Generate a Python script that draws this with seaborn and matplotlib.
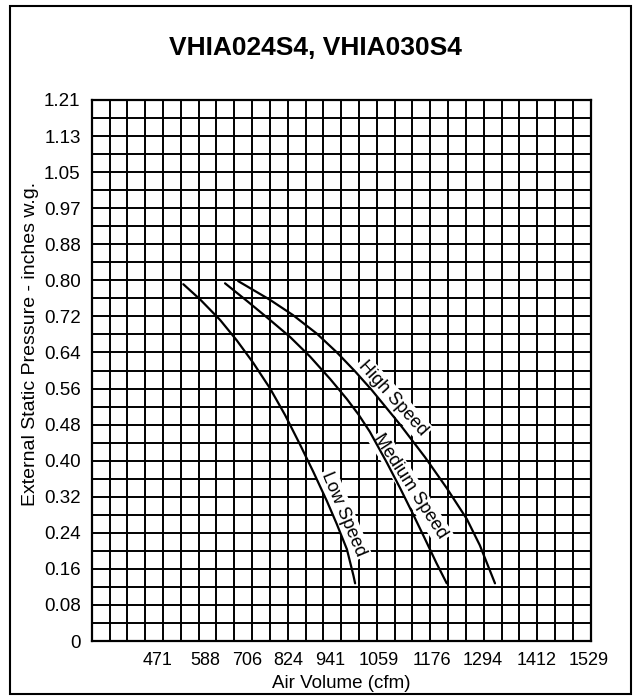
import numpy as np
import pandas as pd
import matplotlib
matplotlib.use("Agg")
import matplotlib.pyplot as plt
from matplotlib.patches import Rectangle
import seaborn as sns

# ---------------- data ----------------
low_cfm = [554, 595, 644, 685, 725, 766, 803, 839, 872, 905, 929, 954, 970, 974]
low_esp = [0.798, 0.764, 0.718, 0.672, 0.622, 0.565, 0.505, 0.440, 0.378, 0.313, 0.262, 0.205, 0.146, 0.129]

med_cfm = [656, 709, 766, 815, 864, 913, 954, 982, 1010, 1051, 1084, 1116, 1145, 1173, 1198]
med_esp = [0.800, 0.761, 0.718, 0.680, 0.636, 0.586, 0.541, 0.507, 0.468, 0.400, 0.342, 0.283, 0.228, 0.174, 0.129]

high_cfm = [688, 766, 822, 881, 930, 974, 1015, 1084, 1145, 1198, 1247, 1279, 1316]
high_esp = [0.805, 0.763, 0.729, 0.687, 0.645, 0.603, 0.561, 0.484, 0.411, 0.342, 0.273, 0.214, 0.129]

speed_names = ["Low Speed", "Medium Speed", "High Speed"]

x_tick_labels = ["471", "588", "706", "824", "941", "1059", "1176", "1294", "1412", "1529"]
y_tick_labels = ["0", "0.08", "0.16", "0.24", "0.32", "0.40", "0.48", "0.56", "0.64",
                 "0.72", "0.80", "0.88", "0.97", "1.05", "1.13", "1.21"]

title = "VHIA024S4, VHIA030S4"
x_title = "Air Volume (cfm)"
y_title = "External Static Pressure - inches w.g."

# ---------------- layout ----------------
X_MIN, X_MAX = 330, 1550
Y_MIN, Y_MAX = 0.0, 1.21
N_COLS, N_ROWS = 28, 30
# where the reference prints its x labels (a text row, not aligned to the grid)
x_tick_pos = [491, 607, 709, 811, 913, 1031, 1161, 1287, 1418, 1546]
# curve-label placement (data coords) and screen rotation
label_pos = {"Low Speed": (946, 0.283, -67),
             "Medium Speed": (1109, 0.345, -57),
             "High Speed": (1066, 0.543, -48)}

df = pd.concat([
    pd.DataFrame({"cfm": low_cfm, "esp": low_esp, "speed": speed_names[0]}),
    pd.DataFrame({"cfm": med_cfm, "esp": med_esp, "speed": speed_names[1]}),
    pd.DataFrame({"cfm": high_cfm, "esp": high_esp, "speed": speed_names[2]}),
], ignore_index=True)

sns.set_style("white")
plt.rcParams["font.family"] = ["Liberation Sans", "DejaVu Sans"]

W, H = 637, 700
fig = plt.figure(figsize=(W / 100, H / 100), dpi=100)
ax = fig.add_axes([91.7 / W, 59 / H, 499 / W, 541 / H])

sns.lineplot(data=df, x="cfm", y="esp", hue="speed", sort=False,
             palette={s: "black" for s in speed_names}, linewidth=1.6,
             legend=False, ax=ax, zorder=4)

ax.set_xlim(X_MIN, X_MAX)
ax.set_ylim(Y_MIN, Y_MAX)

# grid
ax.set_xticks(np.linspace(X_MIN, X_MAX, N_COLS + 1), minor=True)
ax.set_yticks(np.linspace(Y_MIN, Y_MAX, N_ROWS + 1), minor=True)
ax.xaxis.remove_overlapping_locs = False
ax.yaxis.remove_overlapping_locs = False
ax.set_xticks(x_tick_pos, labels=x_tick_labels)
ax.set_yticks(np.linspace(Y_MIN, Y_MAX, len(y_tick_labels)), labels=y_tick_labels)
ax.set_axisbelow(True)
ax.xaxis.grid(True, which="minor", color="black", linewidth=1.4)
ax.xaxis.grid(False, which="major")
ax.yaxis.grid(True, which="minor", color="black", linewidth=1.4)
ax.yaxis.grid(False, which="major")
ax.tick_params(which="both", length=0, labelsize=13, colors="black", pad=8)
ax.tick_params(axis="y", labelsize=13.5)

for s in ax.spines.values():
    s.set_visible(True)
    s.set_color("black")
    s.set_linewidth(1.6)

ax.set_xlabel(x_title, fontsize=13.5, color="black")
ax.set_ylabel(y_title, fontsize=14, color="black")
ax.xaxis.set_label_coords(0.5, -0.062)
ax.yaxis.set_label_coords(-0.106, 0.55)

for name in speed_names:
    x, y, rot = label_pos[name]
    ax.text(x, y, name, rotation=rot, rotation_mode="anchor", ha="center", va="center",
            fontsize=13, color="black", zorder=3,
            bbox=dict(facecolor="white", edgecolor="none", pad=1.5))

fig.text(0.495, 1 - 48 / H, title, ha="center", va="center", fontsize=19,
         fontweight="bold", color="black")

fig.patches.append(Rectangle((10 / W, 6 / H), 621 / W, 688 / H, transform=fig.transFigure,
                             fill=False, edgecolor="black", linewidth=1.5))

fig.savefig("out.png", dpi=100)
